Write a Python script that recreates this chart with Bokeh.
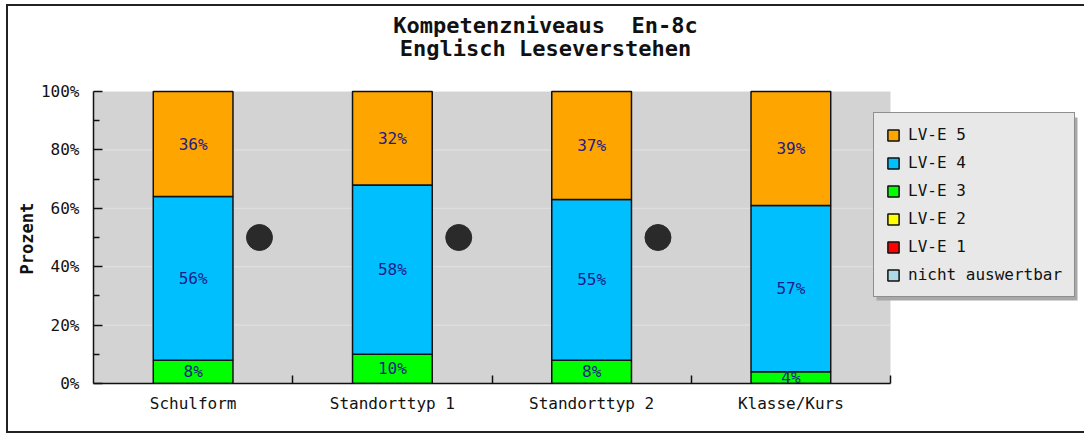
from bokeh.plotting import figure
from bokeh.models import (FixedTicker, PrintfTickFormatter, Legend, LegendItem,
                          Label, ColumnDataSource, BoxAnnotation, Title)
from bokeh.embed import file_html
from bokeh.resources import INLINE
from bokeh.core.properties import value

# ---------------- data ----------------
categories = ["Schulform", "Standorttyp 1", "Standorttyp 2", "Klasse/Kurs"]
levels = ["nicht auswertbar", "LV-E 1", "LV-E 2", "LV-E 3", "LV-E 4", "LV-E 5"]
nicht_auswertbar = [0, 0, 0, 0]
lve1 = [0, 0, 0, 0]
lve2 = [0, 0, 0, 0]
lve3 = [8, 10, 8, 4]
lve4 = [56, 58, 55, 57]
lve5 = [36, 32, 37, 39]
marker_values = [50, 50, 50, None]
y_ticks = [0, 20, 40, 60, 80, 100]
y_minor = [10, 30, 50, 70, 90]
title_line1 = "Kompetenzniveaus \u00a0En-8c"
title_line2 = "Englisch Leseverstehen"
y_label = "Prozent"

colors = ["#ADD8E6", "#FF0000", "#FFFF00", "#00FF00", "#00BFFF", "#FFA500"]
series = [nicht_auswertbar, lve1, lve2, lve3, lve4, lve5]
keys = ["s%d" % i for i in range(len(levels))]

FONT = "DejaVu Sans Mono"
n = len(categories)
xc = [i + 0.5 for i in range(n)]
y_max = max(y_ticks)

# ---------------- layout (pixels) ----------------
W, H = 1078, 429
MB_LEFT, MB_BOTTOM = 85, 52
AREA_W, AREA_H = 797, 292   # grey plotting area
FRAME_W = W - MB_LEFT
FRAME_H = H - MB_BOTTOM
x_end = n * FRAME_W / AREA_W
y_end = y_max * FRAME_H / AREA_H
LEG_X, LEG_Y, LEG_W, LEG_H = 780, 86, 201, 183

data = {"x": xc}
for k, s in zip(keys, series):
    data[k] = s
src = ColumnDataSource(data)

p = figure(width=W, height=H, x_range=(0, x_end), y_range=(0, y_end),
           output_backend="svg", toolbar_location=None)
p.min_border = 0
p.min_border_left = MB_LEFT
p.min_border_bottom = MB_BOTTOM
p.min_border_top = 0
p.min_border_right = 0
p.styles = {"border": "2px solid #222", "border-right": "none",
            "margin-left": "6px", "margin-top": "4px"}
p.background_fill_color = "white"
p.border_fill_color = "white"
p.outline_line_color = None

# grey plotting area
p.add_layout(BoxAnnotation(left=0, right=n, bottom=0, top=y_max,
                           fill_color="#D3D3D3", fill_alpha=1.0,
                           line_color=None, level="underlay"))

# horizontal grid lines
gy = [t for t in y_ticks if 0 < t < y_max]
p.segment(x0=[0] * len(gy), x1=[n] * len(gy), y0=gy, y1=gy,
          line_color="#E2E2E2", line_width=1)

renderers = p.vbar_stack(keys, x="x", width=0.4, source=src,
                         fill_color=colors, line_color="#111", line_width=1.5)

# labels inside segments
lx, ly, lt = [], [], []
bottoms = [0] * n
for s in series:
    for i in range(n):
        v = s[i]
        if v > 0:
            lx.append(xc[i])
            ly.append(bottoms[i] + v / 2)
            lt.append("%d%%" % v)
        bottoms[i] += v
p.text(x=lx, y=ly, text=lt, text_align="center", text_baseline="middle",
       text_font=value(FONT), text_font_size="16px", text_color="#1c1c8a")

# markers
mx = [i + 0.833 for i in range(n) if marker_values[i] is not None]
my = [v for v in marker_values if v is not None]
p.scatter(x=mx, y=my, size=26, fill_color="#2a2a2a", line_color="#2a2a2a")

# axes
p.yaxis.bounds = (0, y_max)
p.yaxis.ticker = FixedTicker(ticks=y_ticks, minor_ticks=y_minor)
p.yaxis.formatter = PrintfTickFormatter(format="%d%%")
p.yaxis.major_tick_in = 9
p.yaxis.major_tick_out = 0
p.yaxis.minor_tick_in = 6
p.yaxis.minor_tick_out = 0
p.yaxis.major_label_standoff = 14

p.xaxis.bounds = (0, n)
p.xaxis.ticker = FixedTicker(ticks=xc, minor_ticks=[i + 1 for i in range(n)])
p.xaxis.major_label_overrides = {xc[i]: categories[i] for i in range(n)}
p.xaxis.major_tick_in = 0
p.xaxis.major_tick_out = 0
p.xaxis.minor_tick_in = 8
p.xaxis.minor_tick_out = 0
p.xaxis.major_label_standoff = 10

for ax in (p.xaxis, p.yaxis):
    ax.major_label_text_font = FONT
    ax.major_label_text_font_size = "16px"
    ax.major_label_text_color = "#111"
    ax.axis_line_color = "#111"
    ax.axis_line_width = 1.5
    ax.major_tick_line_color = "#111"
    ax.major_tick_line_width = 1.5
    ax.minor_tick_line_color = "#111"
    ax.minor_tick_line_width = 1.5

p.xgrid.visible = False
p.ygrid.visible = False

# y axis title (rotated, on the left side)
p.add_layout(Title(text=y_label, align="left", offset=109, standoff=2,
                   text_font=FONT, text_font_style="bold",
                   text_font_size="17px", text_color="#111"), "left")

# legend shadow
p.add_layout(BoxAnnotation(left=LEG_X + 3, right=LEG_X + LEG_W + 3,
                           bottom=LEG_Y - 3, top=LEG_Y + LEG_H - 3,
                           left_units="screen", right_units="screen",
                           bottom_units="screen", top_units="screen",
                           fill_color="#A8A8A8", fill_alpha=1.0,
                           line_color=None))

# legend (top level first)
items = [LegendItem(label=levels[i], renderers=[renderers[i]])
         for i in reversed(range(len(levels)))]
legend = Legend(items=items, location=(LEG_X, LEG_Y))
legend.background_fill_color = "#E8E8E8"
legend.background_fill_alpha = 1.0
legend.border_line_color = "#333"
legend.border_line_width = 1
legend.label_text_font = FONT
legend.label_text_font_size = "16px"
legend.label_text_color = "#111"
legend.glyph_width = 14
legend.glyph_height = 14
legend.label_height = 14
legend.spacing = 9
legend.padding = 12
legend.margin = 0
legend.label_standoff = 8
p.add_layout(legend, "center")

# title lines
p.add_layout(Label(x=452, y=358, x_units="screen", y_units="screen",
                   text=title_line1, text_align="center",
                   text_baseline="alphabetic", text_font=FONT,
                   text_font_style="bold", text_font_size="22px",
                   text_color="#111"))
p.add_layout(Label(x=452, y=335, x_units="screen", y_units="screen",
                   text=title_line2, text_align="center",
                   text_baseline="alphabetic", text_font=FONT,
                   text_font_style="bold", text_font_size="22px",
                   text_color="#111"))

open("out.html", "w").write(file_html(p, INLINE))
